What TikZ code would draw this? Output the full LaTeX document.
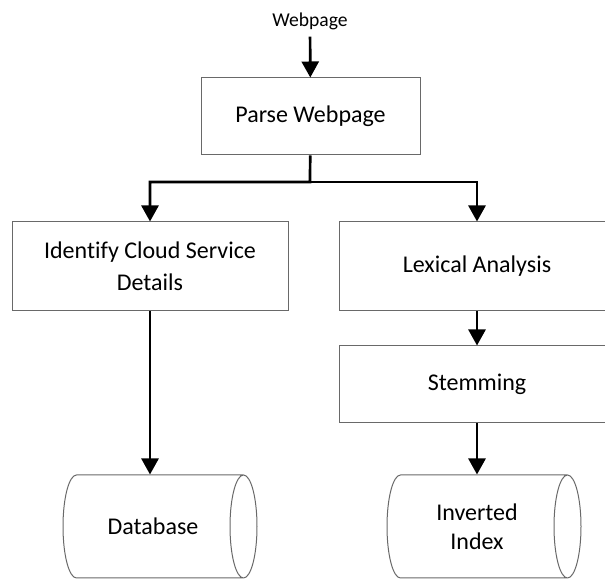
\documentclass[tikz,border=0pt]{standalone}
\usepackage{fontspec}
\setmainfont[Ligatures=NoCommon]{Carlito}
\usetikzlibrary{shapes.geometric,arrows.meta}
\definecolor{grisTrait}{RGB}{105,105,105}
\newcommand{\texteBase}[1]{\parbox[c][30pt][c]{50pt}{\centering #1}}

\begin{document}
\begin{tikzpicture}[x=0.5pt,y=-0.5pt]
    \tikzstyle{boiteEtape}=[draw=grisTrait, line width=0.5pt, minimum width=138pt, inner sep=0pt, align=center, font=\fontsize{12}{16}\selectfont]
    \tikzstyle{baseDonnees}=[cylinder, draw=grisTrait, line width=0.5pt, shape aspect=0.45, minimum height=97pt, minimum width=51.5pt, inner sep=0pt, font=\fontsize{12}{14.5}\selectfont]
    \tikzstyle{fleche}=[line width=1.35pt, -{Triangle[length=8pt,width=8.5pt]}]

    \useasboundingbox (0,0) rectangle (605,581);
    \clip (0,0) rectangle (605,581);

    % input
    \node (webpage) at (310,21) {\fontsize{9.8}{11}\selectfont Webpage};
    \node [boiteEtape, minimum width=109.5pt, minimum height=38.5pt] (parse) at (310.5,116.5) {Parse Webpage};
    % two branches
    \node [boiteEtape, minimum height=44.5pt] (identify) at (150,266.5) {Identify Cloud Service\\Details};
    \node [boiteEtape, minimum height=44.5pt] (lexical) at (477,266.5) {Lexical Analysis};
    \node [boiteEtape, minimum height=38.5pt] (stemming) at (477,384.5) {Stemming};
    % storage
    \node [baseDonnees] (database) at (153,526.5) {\texteBase{Database}};
    \node [baseDonnees] (index) at (477,526.5) {\texteBase{Inverted\\Index}};

    \coordinate (branch) at (310,182);
    \draw [fleche] (webpage) -- (parse);
    \draw [fleche] (parse) -- (branch) -| (identify);
    \draw [fleche] (branch) -| (lexical);
    \draw [fleche] (identify) -- (identify.south |- database.north);
    \draw [fleche] (lexical) -- (stemming);
    \draw [fleche] (stemming) -- (stemming.south |- index.north);
\end{tikzpicture}
\end{document}
